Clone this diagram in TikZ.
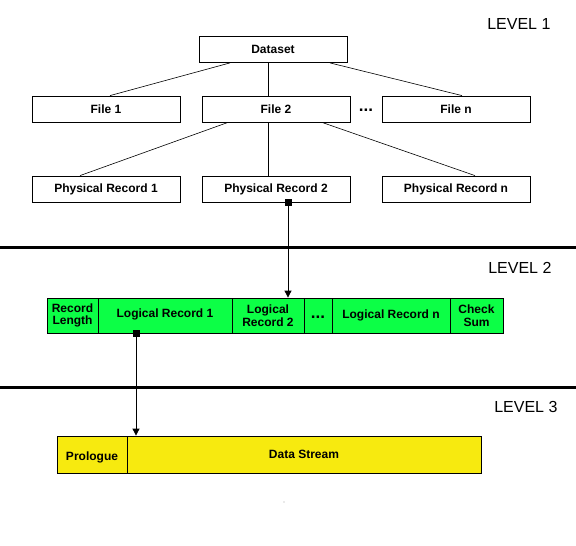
\documentclass[tikz,border=0pt]{standalone}
\usepackage{fontspec}
\setmainfont{Liberation Sans}
\usetikzlibrary{arrows.meta}
\definecolor{recgreen}{HTML}{0CFF46}
\definecolor{recyellow}{HTML}{F7EA0F}
\tikzset{
  box/.style={draw, line width=0.8pt, inner sep=0pt, minimum height=26pt, minimum width=148pt, font=\fontsize{12}{13}\selectfont\bfseries},
  gseg/.style={draw, line width=0.8pt, fill=recgreen, inner sep=0pt, minimum height=35pt, font=\fontsize{12}{12.5}\selectfont\bfseries, align=center},
  yseg/.style={draw, line width=0.8pt, fill=recyellow, inner sep=0pt, minimum height=37pt, font=\fontsize{12}{13}\selectfont\bfseries},
  link/.style={line width=0.6pt},
  arr/.style={line width=0.8pt, -{Triangle[width=7pt,length=7pt]}},
  marker/.style={fill=black, inner sep=0pt, minimum size=7pt},
  level/.style={font=\fontsize{16}{18}\selectfont},
  sep/.style={line width=3pt},
  dots/.style={font=\fontsize{17}{17}\selectfont\bfseries, inner sep=0pt, anchor=base}
}
\begin{document}
\begin{tikzpicture}[x=1pt,y=-1pt]
\useasboundingbox[fill=white] (0,0) rectangle (576,546);
% Level labels
\node[level, anchor=east] (l1) at (554,24) {LEVEL 1};
\node[level, anchor=east] (l2) at (555,268) {LEVEL 2};
\node[level, anchor=east] (l3) at (561,407) {LEVEL 3};
% separators
\draw[sep] (0,247) -- (576,247);
\draw[sep] (0,387) -- (576,387);
% level 1 tree
\node[box] (ds) at (273,49.5) {Dataset};
\node[box] (f1) at (106,109) {File 1};
\node[box] (f2) at (276,109) {File 2};
\node[box] (fn) at (456,109) {File n};
\node[dots] (fd) at (366,111) {...};
\node[box] (p1) at (106,189) {Physical Record 1};
\node[box] (p2) at (276,189) {Physical Record 2};
\node[box] (pn) at (456,189) {Physical Record n};
\draw[link] ([xshift=-43pt]ds.south) -- ([xshift=4pt]f1.north);
\draw[link] ([xshift=-5pt]ds.south) -- ([xshift=-8pt]f2.north);
\draw[link] ([xshift=57pt]ds.south) -- ([xshift=6pt]fn.north);
\draw[link] ([xshift=-48pt]f2.south) -- ([xshift=-26pt]p1.north);
\draw[link] ([xshift=-8pt]f2.south) -- ([xshift=-8pt]p2.north);
\draw[link] ([xshift=46pt]f2.south) -- ([xshift=19pt]pn.north);
% level 2 bar
\node[gseg, minimum width=51pt] (rl) at (72.5,315.5) {Record\\Length};
\node[gseg, minimum width=134pt] (lr1) at (165,315.5) {};
\node[font=\fontsize{12}{13}\selectfont\bfseries] (lr1t) at (165,314) {Logical Record 1};
\node[gseg, minimum width=72pt] (lr2) at (268,315.5) {Logical\\Record 2};
\node[gseg, minimum width=28pt] (gd) at (318,315.5) {};
\node[dots] (gdt) at (318,318.5) {...};
\node[gseg, minimum width=118pt] (lrn) at (391,315.5) {Logical Record n};
\node[gseg, minimum width=53pt] (cs) at (476.5,315.5) {Check\\Sum};
% level 3 bar
\node[yseg, minimum width=70pt] (pro) at (92,454.5) {};
\node[font=\fontsize{12}{13}\selectfont\bfseries] (prot) at (92,457) {Prologue};
\node[yseg, minimum width=354pt] (dst) at (304,454.5) {Data Stream};
% connectors between levels
\coordinate (m1) at ([xshift=12pt]p2.south);
\draw[arr] (m1) -- (m1 |- lr2.north);
\node[marker] at (m1) {};
\coordinate (m2) at ([xshift=-29pt]lr1.south);
\draw[arr] (m2) -- (m2 |- dst.north);
\node[marker] at (m2) {};
% stray dot
\fill (284,502) circle (0.4pt);
\end{tikzpicture}
\end{document}
